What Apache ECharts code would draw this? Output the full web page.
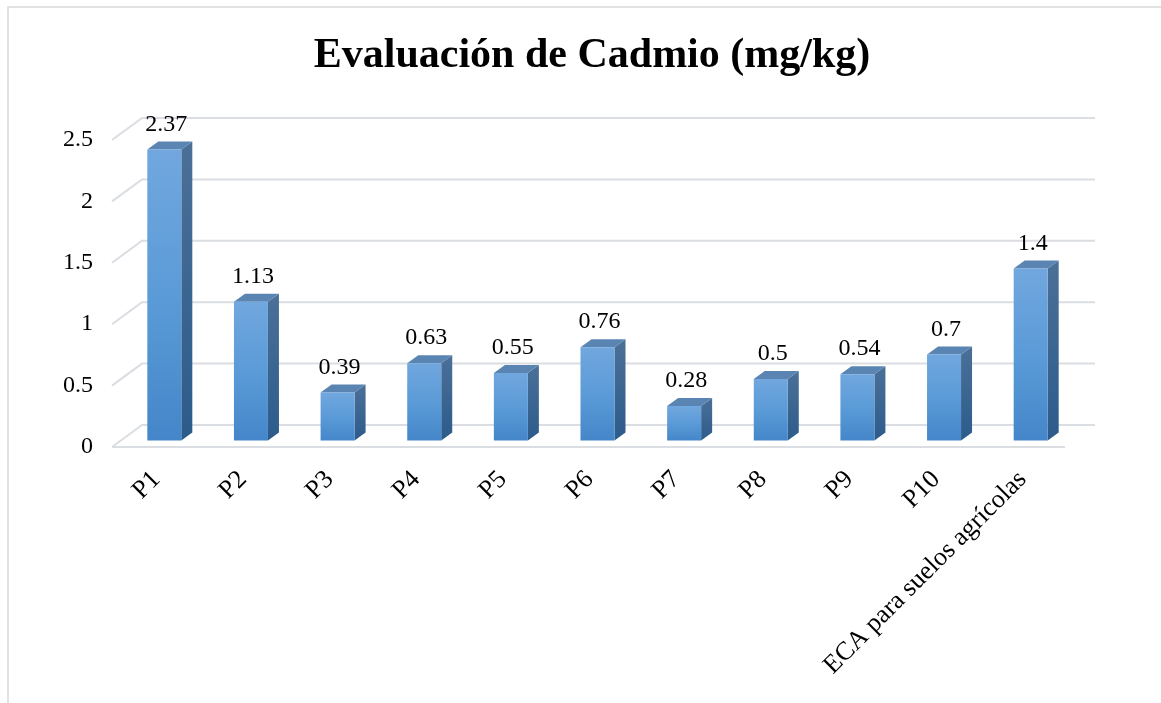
<!DOCTYPE html>
<html>
<head>
<meta charset="utf-8">
<script src="https://cdn.jsdelivr.net/npm/echarts@6/dist/echarts.min.js"></script>
<style>
  html, body { margin: 0; padding: 0; background: #fff; }
  #chart { width: 1161px; height: 703px; }
</style>
</head>
<body>
<div id="chart"></div>
<script>
// Sampling points and the agricultural soil standard (ECA)
const categories = ['P1', 'P2', 'P3', 'P4', 'P5', 'P6', 'P7', 'P8', 'P9', 'P10', 'ECA para suelos agrícolas'];
// Cadmium concentration, mg/kg
const cadmio = [2.37, 1.13, 0.39, 0.63, 0.55, 0.76, 0.28, 0.5, 0.54, 0.7, 1.4];
// Value axis ticks
const yTicks = [0, 0.5, 1, 1.5, 2, 2.5];

const FONT = '"Liberation Serif", "Times New Roman", serif';
// Perspective offsets: back wall relative to the front plane, and bar depth
const WALL_DX = 30, WALL_DY = -22;
const BAR_DX = 11, BAR_DY = -8;
const BAR_W = 34;
const GRID_COLOR = '#dadde2';

const chart = echarts.init(document.getElementById('chart'), null, { renderer: 'canvas' });

const option = {
  backgroundColor: '#ffffff',
  animation: false,
  title: {
    text: 'Evaluación de Cadmio (mg/kg)',
    left: 587,
    top: 30,
    textAlign: 'center',
    textStyle: { fontFamily: FONT, fontSize: 42, fontWeight: 'bold', color: '#000' }
  },
  graphic: [{
    type: 'polyline',
    silent: true,
    shape: { points: [[8, 710], [8, 7], [1170, 7]] },
    style: { stroke: '#d9d9d9', lineWidth: 1.5, fill: null }
  }],
  grid: [
    // front plane: floor front edge and value labels
    { left: 112, top: 140, width: 953, height: 307 },
    // plane of the bars' front faces
    { left: 121, top: 133.5, width: 953, height: 307 },
    // category label placement
    { left: 113, top: 133.5, width: 953, height: 307 }
  ],
  xAxis: [
    { type: 'category', gridIndex: 0, data: categories, show: false },
    { type: 'category', gridIndex: 1, data: categories, show: false },
    {
      type: 'category', gridIndex: 2, data: categories,
      axisLine: { show: false }, axisTick: { show: false },
      axisLabel: { interval: 0, rotate: 45, margin: 35, fontFamily: FONT, fontSize: 26, color: '#000' }
    }
  ],
  yAxis: [
    {
      type: 'value', gridIndex: 0, min: 0, max: 2.5, interval: 0.5,
      axisLine: { show: false }, axisTick: { show: false }, splitLine: { show: false },
      axisLabel: { margin: 19, fontFamily: FONT, fontSize: 24, color: '#000' }
    },
    { type: 'value', gridIndex: 1, min: 0, max: 2.5, interval: 0.5, show: false },
    { type: 'value', gridIndex: 2, min: 0, max: 2.5, interval: 0.5, show: false }
  ],
  series: [
    {
      // walls: slanted side-wall lines, back-wall gridlines and floor front edge
      type: 'custom',
      xAxisIndex: 0, yAxisIndex: 0,
      silent: true, z: 1,
      data: yTicks.map(v => [0, v]),
      encode: { x: 0, y: 1 },
      renderItem: function (params, api) {
        const cs = params.coordSys;
        const v = api.value(1);
        const y = api.coord([0, v])[1];
        const x0 = cs.x;
        const children = [{
          type: 'polyline',
          shape: { points: [[x0, y], [x0 + WALL_DX, y + WALL_DY], [x0 + WALL_DX + cs.width, y + WALL_DY]] },
          style: { stroke: GRID_COLOR, lineWidth: 2, fill: null }
        }];
        if (v === 0) {
          children.push({
            type: 'line',
            shape: { x1: x0, y1: y, x2: x0 + cs.width, y2: y },
            style: { stroke: GRID_COLOR, lineWidth: 2 }
          });
        }
        return { type: 'group', children: children };
      }
    },
    {
      // 3D-style bars with value labels
      type: 'custom',
      xAxisIndex: 1, yAxisIndex: 1,
      z: 5,
      data: cadmio.map((v, i) => [i, v]),
      encode: { x: 0, y: 1 },
      renderItem: function (params, api) {
        const i = api.value(0);
        const v = api.value(1);
        const top = api.coord([i, v]);
        const base = api.coord([i, 0]);
        const x = top[0] - BAR_W / 2;
        const yt = top[1], yb = base[1];
        return {
          type: 'group',
          children: [
            {
              type: 'polygon',
              shape: { points: [[x + BAR_W, yt], [x + BAR_W + BAR_DX, yt + BAR_DY], [x + BAR_W + BAR_DX, yb + BAR_DY], [x + BAR_W, yb]] },
              style: {
                fill: new echarts.graphic.LinearGradient(0, 0, 0, 1, [
                  { offset: 0, color: '#4b7098' },
                  { offset: 1, color: '#2c5b8b' }
                ])
              }
            },
            {
              type: 'polygon',
              shape: { points: [[x, yt], [x + BAR_DX, yt + BAR_DY], [x + BAR_W + BAR_DX, yt + BAR_DY], [x + BAR_W, yt]] },
              style: { fill: '#5a84b2' }
            },
            {
              type: 'rect',
              shape: { x: x, y: yt, width: BAR_W, height: yb - yt },
              style: {
                fill: new echarts.graphic.LinearGradient(0, 0, 0, 1, [
                  { offset: 0, color: '#71a7de' },
                  { offset: 0.5, color: '#5b9bd8' },
                  { offset: 1, color: '#4486c9' }
                ])
              }
            },
            {
              type: 'text',
              style: {
                text: String(v),
                x: top[0] + 2,
                y: yt - 25,
                align: 'center',
                verticalAlign: 'middle',
                font: '24px ' + FONT,
                fill: '#000'
              }
            }
          ]
        };
      }
    }
  ]
};

chart.setOption(option);
</script>
</body>
</html>
